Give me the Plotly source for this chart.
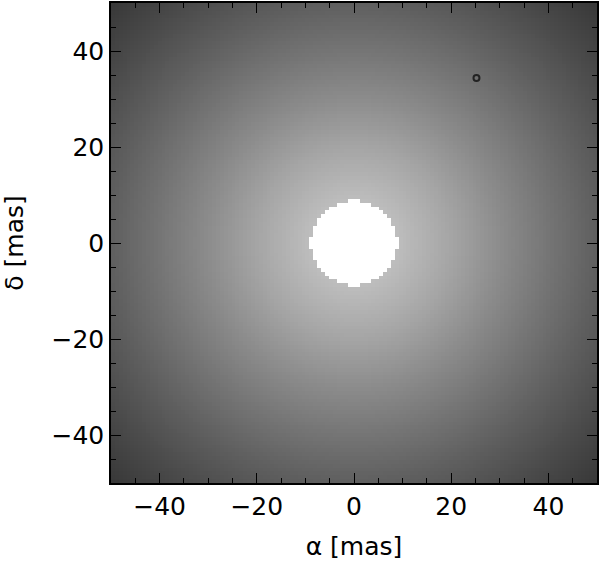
import numpy as np
import plotly.graph_objects as go

# Radial brightness profile (radius in mas -> gray level)
profile_r = [0, 9, 20, 30, 40, 50, 60, 71]
profile_gray = [195, 189, 165, 140, 117, 95, 75, 55]
hole_radius = 8.9          # white (masked) central disk, mas
source_x = [25.2]          # small marked source
source_y = [34.4]
x_ticks = [-40, -20, 0, 20, 40]
y_ticks = [-40, -20, 0, 20, 40]

# image grid
step = 0.8
xs = np.arange(-50 + step / 2, 50, step)
ys = np.arange(-50 + step / 2, 50, step)
X, Y = np.meshgrid(xs, ys)
R = np.hypot(X, Y)
Z = R.copy()
Z[R < hole_radius] = np.nan

rmax = profile_r[-1]
colorscale = [[r / rmax, f"rgb({g},{g},{g})"] for r, g in zip(profile_r, profile_gray)]

fig = go.Figure()
fig.add_trace(go.Heatmap(x=xs, y=ys, z=Z, colorscale=colorscale, zmin=0, zmax=rmax,
                         showscale=False, hoverinfo="skip"))
fig.add_trace(go.Scatter(x=source_x, y=source_y, mode="markers",
                         marker=dict(symbol="circle-open", size=6, color="rgb(35,35,35)",
                                     line=dict(width=2, color="rgb(35,35,35)")),
                         showlegend=False))

font = dict(family="DejaVu Sans, Liberation Sans, sans-serif", size=25, color="black")
axis_common = dict(
    showgrid=False, zeroline=False, showline=True, linecolor="black", linewidth=1.5,
    mirror="allticks", ticks="inside", ticklen=10, tickwidth=1.3, tickcolor="black",
    minor=dict(dtick=5, ticks="inside", ticklen=5, tickwidth=1, tickcolor="black"),
    tickfont=font, automargin=False,
)
fig.update_layout(
    width=600, height=564,
    margin=dict(l=111, r=3, t=3, b=81),
    paper_bgcolor="white", plot_bgcolor="white",
    xaxis=dict(range=[-50, 50], tickvals=x_ticks, ticktext=[("\u2212" + str(-v)) if v < 0 else str(v) for v in x_ticks],
               title=dict(text="\u03b1 [mas]", font=font, standoff=18), **axis_common),
    yaxis=dict(range=[-50, 50], tickvals=y_ticks, ticktext=[("\u2212" + str(-v)) if v < 0 else str(v) for v in y_ticks],
               title=dict(text="\u03b4 [mas]", font=font, standoff=22), **axis_common),
)
fig.write_html("out.html", config={"displayModeBar": False},
               post_script="document.body.style.margin='0';")
